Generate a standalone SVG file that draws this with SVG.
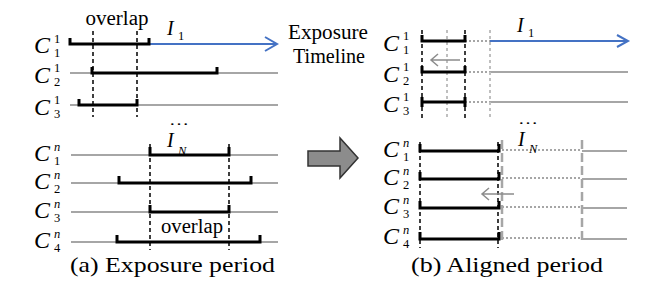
<svg xmlns="http://www.w3.org/2000/svg" width="663" height="295" viewBox="0 0 663 295" font-family="'Liberation Serif', 'Times New Roman', serif">
<style>
text{font-family:'Liberation Serif','Times New Roman',serif;fill:#000}
.c{font-style:italic;font-size:24px}
.s{font-size:12.5px}
.si{font-size:12.5px;font-style:italic}
.it{font-style:italic;font-size:20px}
.cap{font-size:22px}
.ov{font-size:20px}
.dots{font-size:14px}
.g{stroke:#a6a6a6;stroke-width:2;fill:none}
.b{stroke:#4472c4;stroke-width:2;fill:none}
.bar{stroke:#000;stroke-width:3;fill:none}
.dk{stroke:#000;stroke-width:1.5;stroke-dasharray:4 3;fill:none}
.dot{stroke:#a6a6a6;stroke-width:2;stroke-dasharray:2 2;fill:none}
.dotv{stroke:#bfbfbf;stroke-width:2;stroke-dasharray:3 3;fill:none}
.gd{stroke:#a6a6a6;stroke-width:2.5;stroke-dasharray:9 4;fill:none}
.ga{stroke:#8c8c8c;stroke-width:1.5;fill:none}
</style>
<rect width="663" height="295" fill="#fff"/>

<!-- Left panel -->
<g id="panel-a">
  <g id="connectors-a">
    <path class="b" d="M70,44 H277 M265,37 L277,44 L265,51"/>
    <path class="g" d="M70,73 H278 M70,105 H278"/>
    <path class="g" d="M71,155 H278 M71,183 H278 M71,212 H278 M71,242 H278"/>
    <path class="bar" d="M70,38 V44 H149 V38"/>
    <path class="bar" d="M92,67 V73 H217 V67"/>
    <path class="bar" d="M79,99 V105 H137 V99"/>
    <path class="dk" d="M93,31 V117 M137,31 V117"/>
    <path class="bar" d="M150,147 V155 H229 V147"/>
    <path class="bar" d="M119,176 V183 H251 V176"/>
    <path class="bar" d="M150,205 V212 H229 V205"/>
    <path class="bar" d="M117,235 V242 H260 V235"/>
    <path class="dk" d="M150,144 V250 M229,144 V250"/>
  </g>
  <g id="label-a-c11"><text class="c" x="34" y="53">C</text><text class="s" x="54" y="43">1</text><text class="s" x="54" y="57">1</text></g>
  <g id="label-a-c21"><text class="c" x="34" y="83">C</text><text class="s" x="54" y="72">1</text><text class="s" x="54" y="86">2</text></g>
  <g id="label-a-c31"><text class="c" x="34" y="115">C</text><text class="s" x="54" y="104">1</text><text class="s" x="54" y="118">3</text></g>
  <g id="label-a-c1n"><text class="c" x="34" y="161">C</text><text class="si" x="54" y="151">n</text><text class="s" x="54" y="165">1</text></g>
  <g id="label-a-c2n"><text class="c" x="34" y="189">C</text><text class="si" x="54" y="179">n</text><text class="s" x="54" y="193">2</text></g>
  <g id="label-a-c3n"><text class="c" x="34" y="218">C</text><text class="si" x="54" y="208">n</text><text class="s" x="54" y="222">3</text></g>
  <g id="label-a-c4n"><text class="c" x="34" y="248">C</text><text class="si" x="54" y="238">n</text><text class="s" x="54" y="252">4</text></g>
  <text class="ov" x="117" y="25" text-anchor="middle" textLength="63" lengthAdjust="spacingAndGlyphs">overlap</text>
  <text class="ov" x="192" y="233" text-anchor="middle" textLength="62" lengthAdjust="spacingAndGlyphs">overlap</text>
  <g id="label-a-i1"><text class="it" x="167" y="35">I</text><text class="s" x="178" y="40">1</text></g>
  <text class="dots" x="179" y="125" text-anchor="middle" textLength="20" lengthAdjust="spacingAndGlyphs">…</text>
  <g id="label-a-in"><text class="it" x="167" y="147">I</text><text class="si" x="178" y="155">N</text></g>
  <text class="cap" x="70" y="272" textLength="205" lengthAdjust="spacingAndGlyphs">(a) Exposure period</text>
</g>

<!-- Middle -->
<g id="exposure-timeline">
  <text class="ov" x="328" y="39" text-anchor="middle" textLength="80" lengthAdjust="spacingAndGlyphs">Exposure</text>
  <text class="ov" x="329" y="63" text-anchor="middle" textLength="72" lengthAdjust="spacingAndGlyphs">Timeline</text>
</g>
<g id="big-arrow">
  <path d="M308,151 H340 V138 L358,158 L340,178 V166 H308 Z" fill="#8c8c8c" stroke="#333" stroke-width="1.5"/>
</g>

<!-- Right panel -->
<g id="panel-b">
  <g id="connectors-b">
    <path class="b" d="M490,41 H628 M617,35 L628,41 L617,47"/>
    <path class="g" d="M490,72 H628 M490,102 H628"/>
    <path class="dot" d="M465,41 H490 M465,72 H490 M465,102 H490"/>
    <path class="dotv" d="M447,30 V118 M490,30 V118"/>
    <path class="bar" d="M422,35 V41 H465 V35"/>
    <path class="bar" d="M422,66 V72 H465 V66"/>
    <path class="bar" d="M422,97 V107 M422,102 H465 M465,97 V107"/>
    <path class="dk" d="M422,30 V118 M465,30 V118"/>
    <path class="ga" d="M460,60 H431 M438,54 L431,60 L438,66"/>

    <path class="g" d="M582,151 H627 M582,179 H627 M582,208 H627 M582,239 H627"/>
    <path class="dot" d="M502,150 H582 M502,178 H582 M502,207 H582 M502,238 H582"/>
    <path class="gd" d="M502,140 V243 M582,140 V243"/>
    <path class="bar" d="M420,144 V151 H499 V144"/>
    <path class="bar" d="M420,172 V179 H499 V172"/>
    <path class="bar" d="M420,201 V208 H499 V201"/>
    <path class="bar" d="M420,232 V239 H499 V232"/>
    <path class="dk" d="M420,142 V248 M498,142 V248"/>
    <path class="ga" d="M514,194 H482 M489,188 L482,194 L489,200"/>
  </g>
  <g id="label-b-c11"><text class="c" x="383" y="51">C</text><text class="s" x="403" y="40">1</text><text class="s" x="403" y="54">1</text></g>
  <g id="label-b-c21"><text class="c" x="383" y="82">C</text><text class="s" x="403" y="71">1</text><text class="s" x="403" y="85">2</text></g>
  <g id="label-b-c31"><text class="c" x="383" y="112">C</text><text class="s" x="403" y="101">1</text><text class="s" x="403" y="115">3</text></g>
  <g id="label-b-c1n"><text class="c" x="383" y="157">C</text><text class="si" x="403" y="147">n</text><text class="s" x="403" y="161">1</text></g>
  <g id="label-b-c2n"><text class="c" x="383" y="185">C</text><text class="si" x="403" y="175">n</text><text class="s" x="403" y="189">2</text></g>
  <g id="label-b-c3n"><text class="c" x="383" y="214">C</text><text class="si" x="403" y="204">n</text><text class="s" x="403" y="218">3</text></g>
  <g id="label-b-c4n"><text class="c" x="383" y="244">C</text><text class="si" x="403" y="234">n</text><text class="s" x="403" y="248">4</text></g>
  <g id="label-b-i1"><text class="it" x="517" y="32">I</text><text class="s" x="528" y="37">1</text></g>
  <text class="dots" x="528" y="124" text-anchor="middle" textLength="20" lengthAdjust="spacingAndGlyphs">…</text>
  <g id="label-b-in"><text class="it" x="518" y="146">I</text><text class="si" x="529" y="153">N</text></g>
  <text class="cap" x="411" y="272" textLength="192" lengthAdjust="spacingAndGlyphs">(b) Aligned period</text>
</g>
</svg>
